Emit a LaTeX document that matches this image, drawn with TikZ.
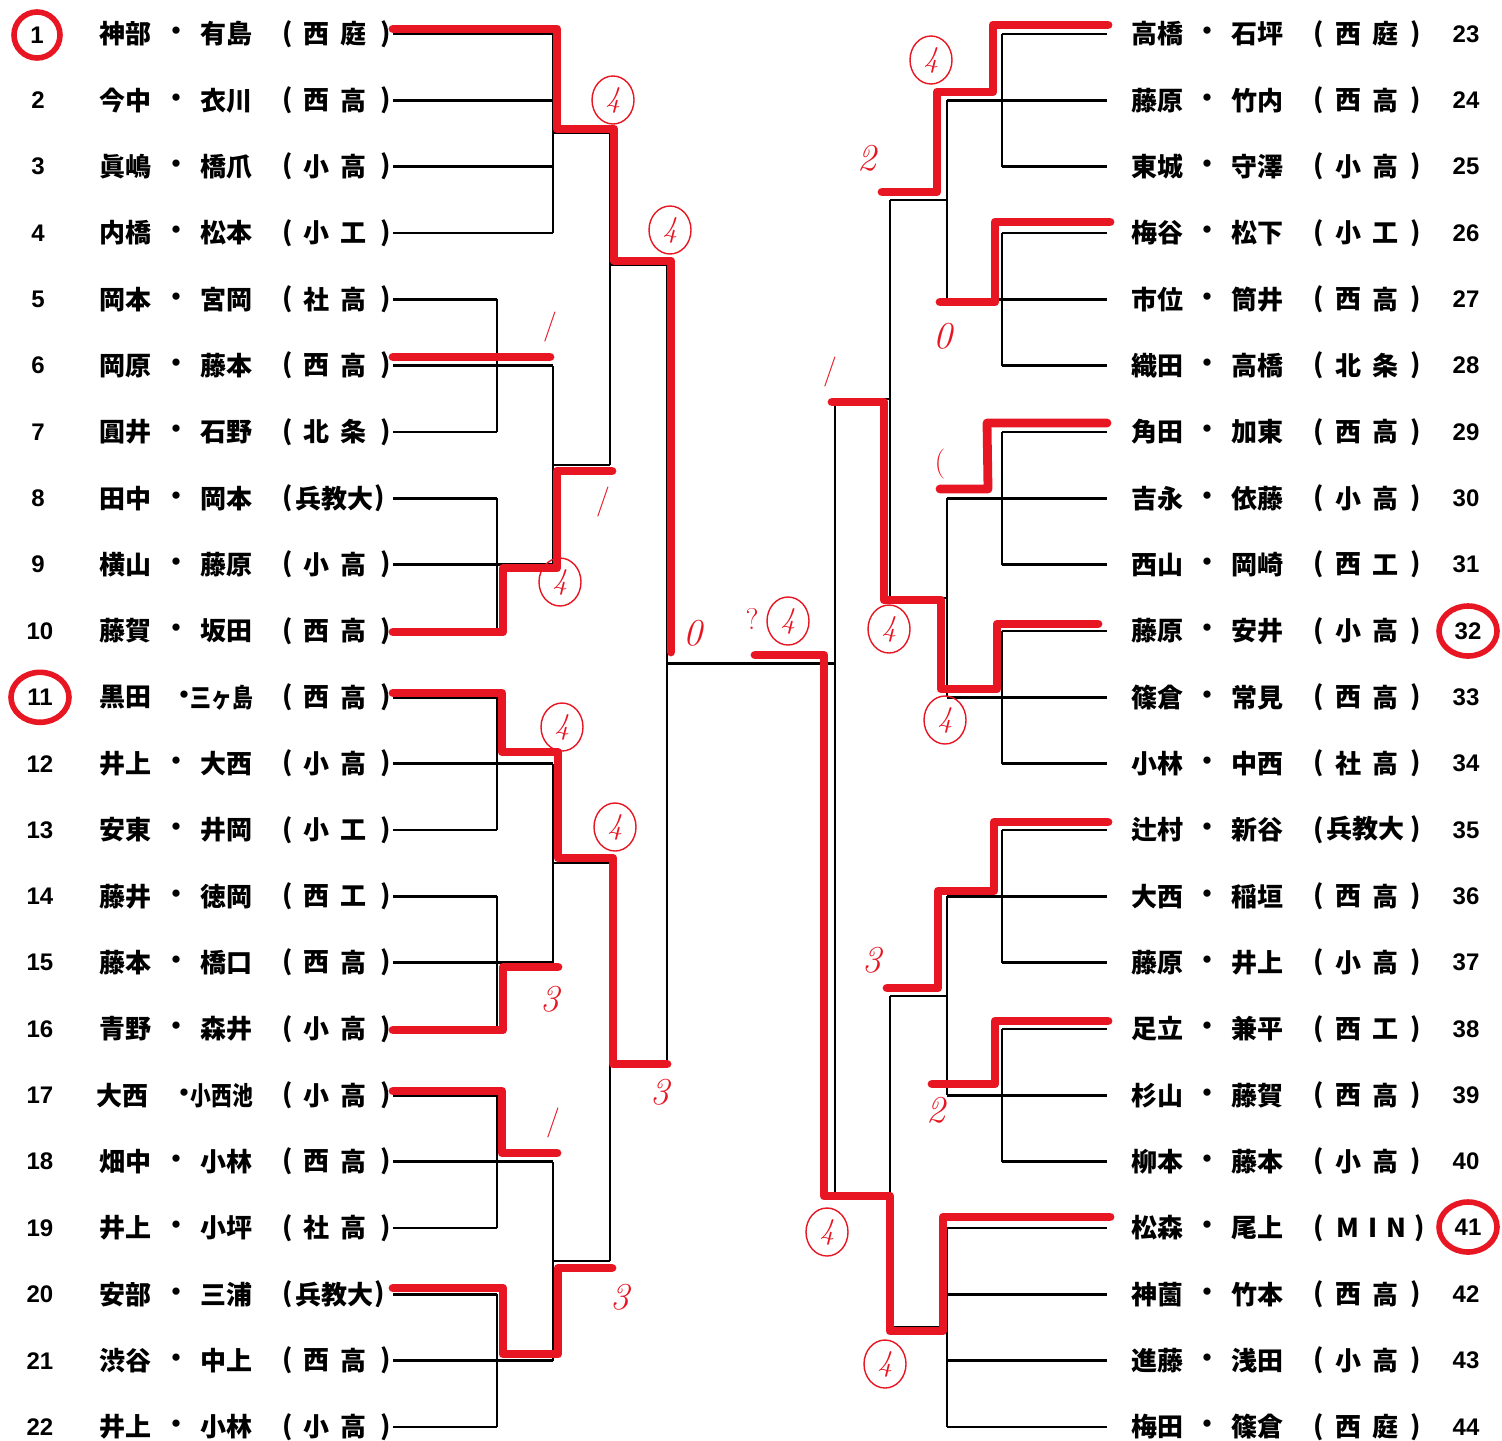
\documentclass[tikz,border=0pt]{standalone}
\usepackage{fontspec}
\usetikzlibrary{shapes.geometric}
\newfontfamily\cjk{Noto Sans CJK JP}
\newfontfamily\numf{Liberation Sans}
\definecolor{pen}{RGB}{232,22,34}
\tikzset{
  bk/.style={line width=1.2pt, black},
  rd/.style={line width=4.4pt, pen, line cap=round, line join=round},
  nm/.style={inner sep=0pt, font=\cjk\bfseries\fontsize{13}{13}\selectfont},
  num/.style={inner sep=0pt, font=\numf\bfseries\fontsize{12}{12}\selectfont},
  hw/.style={inner sep=0pt, text=pen, font=\itshape\fontsize{19}{19}\selectfont},
  sl/.style={inner sep=0pt, text=pen, font=\fontsize{15}{15}\selectfont},
  c4/.style={ellipse, draw=pen, line width=0.7pt, text=pen, inner sep=0pt,
    minimum width=21pt, minimum height=24pt, font=\itshape\fontsize{15}{15}\selectfont},
  hl/.style={ellipse, draw=pen, line width=2.8pt, minimum width=23pt, minimum height=23pt},
  hlw/.style={ellipse, draw=pen, line width=2.8pt, minimum width=29pt, minimum height=25pt},
}
\begin{document}
\begin{tikzpicture}[x=0.5pt,y=-0.5pt]
\useasboundingbox (0,0) rectangle (1502,1440);
\fill[white] (0,0) rectangle (1502,1440);

% ---------- row end coordinates and column x
\foreach \i in {1,...,22} \coordinate (le\i) at (393,{34+(\i-1)*66.333});
\foreach \j in {23,...,44} \coordinate (re\j) at (1107,{34+(\j-23)*66.333});
\coordinate (xa) at (497,0);
\coordinate (xb) at (553,0);
\coordinate (xc) at (610,0);
\coordinate (xd) at (667,0);
\coordinate (xe) at (835,0);
\coordinate (xf) at (890,0);
\coordinate (xg) at (947,0);
\coordinate (xh) at (1002,0);

% ---------- left entries
\foreach \i/\a/\b in {1/神部/有島,2/今中/衣川,3/眞嶋/橋爪,4/内橋/松本,5/岡本/宮岡,6/岡原/藤本,7/圓井/石野,8/田中/岡本,9/横山/藤原,10/藤賀/坂田,12/井上/大西,13/安東/井岡,14/藤井/徳岡,15/藤本/橋口,16/青野/森井,18/畑中/小林,19/井上/小坪,20/安部/三浦,21/渋谷/中上,22/井上/小林}{
  \node[nm] (la\i) at (125,{34+(\i-1)*66.333}) {\a};
  \node[nm] (ld\i) at (176,{34+(\i-1)*66.333}) {・};
  \node[nm] (lb\i) at (226,{34+(\i-1)*66.333}) {\b};
}
\node[nm] (la11) at (125,697.3) {黒田};
\node[nm] (ld11) at (184,697.3) {・};
\node[nm] (lb11) at (222,697.3) {\scalebox{0.8}[1]{三ヶ島}};
\node[nm] (la17) at (122,1095.3) {大西};
\node[nm] (ld17) at (184,1095.3) {・};
\node[nm] (lb17) at (222,1095.3) {\scalebox{0.8}[1]{小西池}};

\foreach \i/\p/\q in {1/西/庭,2/西/高,3/小/高,4/小/工,5/社/高,6/西/高,7/北/条,9/小/高,10/西/高,11/西/高,12/小/高,13/小/工,14/西/工,15/西/高,16/小/高,17/小/高,18/西/高,19/社/高,21/西/高,22/小/高}{
  \node[nm] (lo\i) at (288,{34+(\i-1)*66.333}) {(};
  \node[nm] (ls\i) at (316,{34+(\i-1)*66.333}) {\p};
  \node[nm] (lt\i) at (353,{34+(\i-1)*66.333}) {\q};
  \node[nm] (lc\i) at (386,{34+(\i-1)*66.333}) {)};
}
\foreach \i in {8,20}{
  \node[nm] (lo\i) at (288,{34+(\i-1)*66.333}) {(};
  \node[nm] (ls\i) at (334,{34+(\i-1)*66.333}) {兵教大};
  \node[nm] (lc\i) at (380,{34+(\i-1)*66.333}) {)};
}
\foreach \i in {2,...,9}
  \node[num] (ln\i) at (38,{34+(\i-1)*66.333}) {\i};
\foreach \i in {10,12,13,14,15,16,17,18,19,20,21,22}
  \node[num] (ln\i) at (40,{34+(\i-1)*66.333}) {\i};
\node[num,hl] (ln1) at (37,35) {1};
\node[num,hlw] (ln11) at (40,697.3) {11};

% ---------- right entries
\foreach \j/\a/\b/\p/\q in {23/高橋/石坪/西/庭,24/藤原/竹内/西/高,25/東城/守澤/小/高,26/梅谷/松下/小/工,27/市位/筒井/西/高,28/織田/高橋/北/条,29/角田/加東/西/高,30/吉永/依藤/小/高,31/西山/岡崎/西/工,32/藤原/安井/小/高,33/篠倉/常見/西/高,34/小林/中西/社/高,36/大西/稲垣/西/高,37/藤原/井上/小/高,38/足立/兼平/西/工,39/杉山/藤賀/西/高,40/柳本/藤本/小/高,42/神薗/竹本/西/高,43/進藤/浅田/小/高,44/梅田/篠倉/西/庭}{
  \node[nm] (ra\j) at (1157,{34+(\j-23)*66.333}) {\a};
  \node[nm] (rd\j) at (1207,{34+(\j-23)*66.333}) {・};
  \node[nm] (rb\j) at (1257,{34+(\j-23)*66.333}) {\b};
  \node[nm] (ro\j) at (1319,{34+(\j-23)*66.333}) {(};
  \node[nm] (rs\j) at (1348,{34+(\j-23)*66.333}) {\p};
  \node[nm] (rt\j) at (1385,{34+(\j-23)*66.333}) {\q};
  \node[nm] (rc\j) at (1416,{34+(\j-23)*66.333}) {)};
}
\foreach \j/\a/\b in {35/辻村/新谷,41/松森/尾上}{
  \node[nm] (ra\j) at (1157,{34+(\j-23)*66.333}) {\a};
  \node[nm] (rd\j) at (1207,{34+(\j-23)*66.333}) {・};
  \node[nm] (rb\j) at (1257,{34+(\j-23)*66.333}) {\b};
  \node[nm] (ro\j) at (1319,{34+(\j-23)*66.333}) {(};
}
\node[nm] (rc35) at (1416,829) {)};
\node[nm] (rc41) at (1420,1228) {)};
\node[nm] (rs35) at (1365,829) {兵教大};
\node[nm] (rm41) at (1348,1228) {M};
\node[nm] (ri41) at (1373,1228) {I};
\node[nm] (rn41) at (1396,1228) {N};
\foreach \j in {23,...,31,33,34,35,36,37,38,39,40,42,43,44}
  \node[num] (rn\j) at (1466,{34+(\j-23)*66.333}) {\j};
\node[num,hlw] (rn32) at (1468,631) {32};
\node[num,hlw] (rn41n) at (1468,1227) {41};

% ---------- left bracket (black)
\foreach \i in {1,2,3,4,6,9,12,15,18,21} \draw[bk] (le\i) -- (le\i -| xb);
\foreach \i in {5,7,8,10,11,13,14,16,17,19,20,22} \draw[bk] (le\i) -- (le\i -| xa);
\draw[bk] (le1 -| xb) -- (le4 -| xb);
\foreach \p/\q in {5/7,8/10,11/13,14/16,17/19,20/22} \draw[bk] (le\p -| xa) -- (le\q -| xa);
\foreach \p/\q in {6/9,12/15,18/21} \draw[bk] (le\p -| xb) -- (le\q -| xb);
\coordinate (j1) at (553,133);
\coordinate (j2) at (553,465.2);
\coordinate (j3) at (553,863.2);
\coordinate (j4) at (553,1261.2);
\foreach \k in {j1,j2,j3,j4} \draw[bk] (\k) -- (\k -| xc);
\draw[bk] (j1 -| xc) -- (j2 -| xc);
\draw[bk] (j3 -| xc) -- (j4 -| xc);
\coordinate (k1) at (610,265);
\coordinate (k2) at (610,1062.2);
\draw[bk] (k1) -- (k1 -| xd);
\draw[bk] (k2) -- (k2 -| xd);
\draw[bk] (k1 -| xd) -- (k2 -| xd);
\coordinate (cL) at (667,663.6);
\draw[bk] (cL) -- (cL -| xe);

% ---------- right bracket (black)
\foreach \j in {24,27,30,33,36,39,41,42,43,44} \draw[bk] (re\j) -- (re\j -| xg);
\foreach \j in {23,25,26,28,29,31,32,34,35,37,38,40} \draw[bk] (re\j) -- (re\j -| xh);
\foreach \p/\q in {23/25,26/28,29/31,32/34,35/37,38/40} \draw[bk] (re\p -| xh) -- (re\q -| xh);
\foreach \p/\q in {24/27,30/33,36/39,41/44} \draw[bk] (re\p -| xg) -- (re\q -| xg);
\coordinate (m1) at (947,199.8);
\coordinate (m2) at (947,597.8);
\coordinate (m3) at (947,995.8);
\coordinate (m4) at (947,1327.5);
\foreach \k in {m1,m2,m3,m4} \draw[bk] (\k) -- (\k -| xf);
\draw[bk] (m1 -| xf) -- (m2 -| xf);
\draw[bk] (m3 -| xf) -- (m4 -| xf);
\coordinate (n1) at (890,398.8);
\coordinate (n2) at (890,1193);
\draw[bk] (n1) -- (n1 -| xe);
\draw[bk] (n2) -- (n2 -| xe);
\draw[bk] (n1 -| xe) -- (n2 -| xe);

% ---------- red winner paths
\draw[rd] (393,29) -- (557,29) -- (557,129) -- (614,129) -- (614,261) -- (671,261) -- (671,652);
\draw[rd] (393,357) -- (550,357);
\draw[rd] (393,632) -- (503,632) -- (503,568) -- (557,568) -- (557,471) -- (612,471);
\draw[rd] (393,693) -- (502,693) -- (502,752) -- (558,752) -- (558,858) -- (613,858) -- (613,1064) -- (667,1064);
\draw[rd] (393,1030) -- (503,1030) -- (503,967) -- (558,967);
\draw[rd] (393,1091) -- (502,1091) -- (502,1153) -- (557,1153);
\draw[rd] (393,1288) -- (503,1288) -- (503,1354) -- (558,1354) -- (558,1268) -- (612,1268);
\draw[rd] (755,655) -- (824,655) -- (824,1196) -- (890,1196) -- (890,1331) -- (943,1331) -- (943,1217) -- (1110,1217);
\draw[rd] (1108,25) -- (993,25) -- (993,92) -- (937,92) -- (937,192) -- (882,192);
\draw[rd] (1110,222) -- (995,222) -- (995,302) -- (940,302);
\draw[rd] (1107,423) -- (987,423) -- (988,489) -- (940,489);
\draw[rd] (1098,624) -- (997,624) -- (997,689) -- (941,689) -- (941,600) -- (884,600) -- (884,402) -- (832,402);
\draw[rd] (1108,822) -- (994,822) -- (994,891) -- (938,891) -- (938,988) -- (887,988);
\draw[rd] (1108,1021) -- (995,1021) -- (995,1084) -- (932,1084);

% ---------- handwritten marks
\node[c4] (h1) at (613,100) {4};
\node[c4] (h2) at (670,230) {4};
\node[sl] (h3) at (550,327) {/};
\node[c4] (h4) at (560,582) {4};
\node[sl] (h5) at (603,502) {/};
\node[hw] (h6) at (693,633) {0};
\node[c4] (h7) at (562,727) {4};
\node[c4] (h8) at (615,827) {4};
\node[hw] (h9) at (550,999) {3};
\node[hw] (h10) at (660,1092) {3};
\node[sl] (h11) at (553,1123) {/};
\node[hw] (h12) at (620,1297) {3};
\node[sl] (h13) at (752,619) {?};
\node[c4] (h14) at (788,621) {4};
\node[c4] (h15) at (931,60) {4};
\node[hw] (h16) at (867,158) {2};
\node[hw] (h17) at (943,336) {0};
\node[sl] (h18) at (830,372) {/};
\node[sl] (h19) at (940,464) {(};
\node[c4] (h20) at (889,629) {4};
\node[c4] (h21) at (945,720) {4};
\node[hw] (h22) at (872,960) {3};
\node[hw] (h23) at (936,1110) {2};
\node[c4] (h24) at (827,1232) {4};
\node[c4] (h25) at (885,1364) {4};
\end{tikzpicture}
\end{document}
